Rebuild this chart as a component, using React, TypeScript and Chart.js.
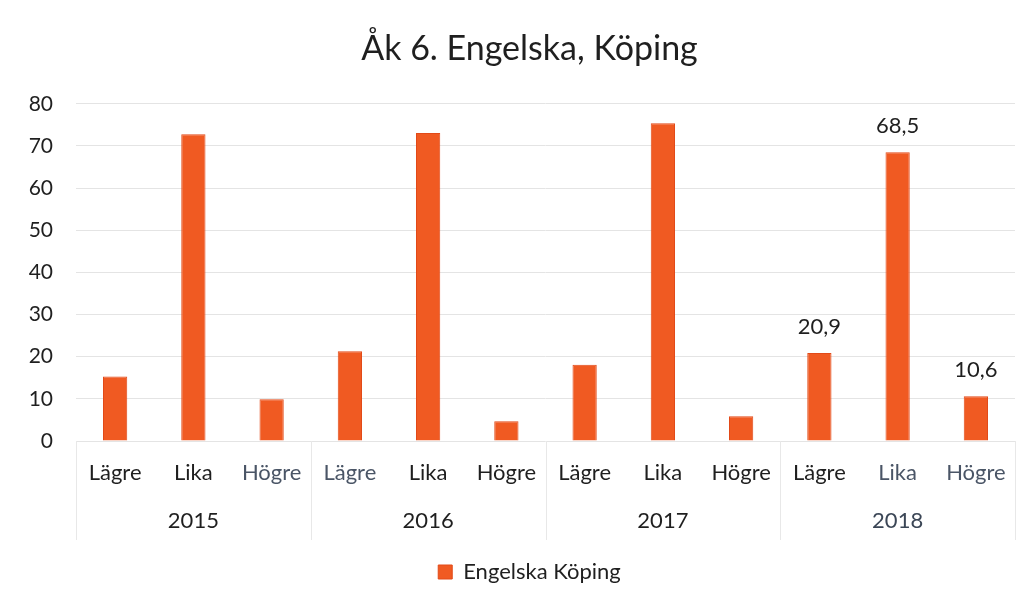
import React, { useEffect, useRef } from 'react';
import { Chart, registerables } from 'chart.js';

Chart.register(...registerables);

const chartTitle = 'Åk 6. Engelska, Köping';
const seriesName = 'Engelska Köping';
const categories = ['Lägre', 'Lika', 'Högre', 'Lägre', 'Lika', 'Högre', 'Lägre', 'Lika', 'Högre', 'Lägre', 'Lika', 'Högre'];
const years = ['2015', '2016', '2017', '2018'];
const values = [15.3, 72.8, 9.9, 21.3, 73.1, 4.7, 18.1, 75.4, 5.9, 20.9, 68.5, 10.6];
const labelled = [false, false, false, false, false, false, false, false, false, true, true, true];
const categoryColors = ['#1f1f1f', '#1f1f1f', '#4a5566', '#4a5566', '#1f1f1f', '#1f1f1f', '#1f1f1f', '#1f1f1f', '#1f1f1f', '#1f1f1f', '#4a5566', '#4a5566'];
const yearColors = ['#1f1f1f', '#1f1f1f', '#1f1f1f', '#3b4656'];
const yMin = 0;
const yMax = 80;
const yStep = 10;

const FONT = 'Lato, "Open Sans", sans-serif';

const groupSeparators = {
  id: 'groupSeparators',
  afterDraw(chart: any) {
    const { ctx, chartArea } = chart;
    const x = chart.scales.x;
    const x2 = chart.scales.x2;
    const per = categories.length / years.length;
    const xs: number[] = [chartArea.left];
    for (let g = 1; g < years.length; g++) {
      const a = x.getPixelForValue(g * per - 1);
      const b = x.getPixelForValue(g * per);
      xs.push((a + b) / 2);
    }
    xs.push(chartArea.right);
    ctx.save();
    ctx.strokeStyle = '#e8e8e8';
    ctx.lineWidth = 1;
    xs.forEach((px) => {
      ctx.beginPath();
      ctx.moveTo(Math.round(px) + 0.5, chartArea.bottom);
      ctx.lineTo(Math.round(px) + 0.5, x2.bottom + 7);
      ctx.stroke();
    });
    ctx.restore();
  },
};

const valueLabels = {
  id: 'valueLabels',
  afterDatasetsDraw(chart: any) {
    const { ctx } = chart;
    const meta = chart.getDatasetMeta(0);
    ctx.save();
    ctx.font = `22px ${FONT}`;
    ctx.fillStyle = '#1f1f1f';
    ctx.textAlign = 'center';
    ctx.textBaseline = 'middle';
    meta.data.forEach((bar: any, i: number) => {
      if (!labelled[i]) return;
      const txt = String(values[i]).replace('.', ',');
      ctx.fillText(txt, bar.x, bar.y - 26);
    });
    ctx.restore();
  },
};

export default function App() {
  const ref = useRef<HTMLCanvasElement | null>(null);

  useEffect(() => {
    if (!ref.current) return;
    const chart = new Chart(ref.current, {
      type: 'bar',
      data: {
        labels: categories,
        datasets: [
          {
            label: seriesName,
            data: values,
            backgroundColor: '#F05A22',
            borderColor: '#E24A18',
            borderWidth: 1,
            barPercentage: 0.31,
            categoryPercentage: 1.0,
          },
        ],
      },
      options: {
        responsive: false,
        animation: false,
        layout: { padding: { left: 26, right: 0, top: 0, bottom: 12 } },
        plugins: {
          title: {
            display: true,
            text: chartTitle,
            color: '#1f1f1f',
            font: { family: FONT, size: 34, weight: 'normal' },
            padding: { top: 29, bottom: 34 },
          },
          legend: {
            display: true,
            position: 'bottom',
            labels: {
              color: '#1f1f1f',
              font: { family: FONT, size: 22 },
              boxWidth: 14,
              boxHeight: 14,
              padding: 28,
            },
          },
          tooltip: { enabled: false },
        },
        scales: {
          x: {
            type: 'category',
            position: 'bottom',
            grid: { display: false, drawTicks: false },
            border: { display: false },
            ticks: {
              font: { family: FONT, size: 22 },
              color: (c: any) => categoryColors[c.index] || '#1f1f1f',
              padding: 19,
              maxRotation: 0,
              autoSkip: false,
            },
            afterFit: (scale: any) => {
              scale.height = 44;
            },
          },
          x2: {
            type: 'category',
            labels: years,
            position: 'bottom',
            offset: true,
            grid: { display: false, drawTicks: false },
            border: { display: false },
            ticks: {
              font: { family: FONT, size: 22 },
              color: (c: any) => yearColors[c.index] || '#1f1f1f',
              padding: 23,
              maxRotation: 0,
            },
            afterFit: (scale: any) => {
              scale.height = 48;
            },
          },
          y: {
            min: yMin,
            max: yMax,
            grid: { color: '#e4e4e4', drawTicks: false },
            border: { display: false },
            ticks: {
              stepSize: yStep,
              font: { family: FONT, size: 21 },
              color: '#1f1f1f',
              padding: 23,
            },
            afterFit: (scale: any) => {
              scale.width = 50;
            },
          },
          yRight: {
            type: 'linear',
            position: 'right',
            display: true,
            grid: { display: false, drawTicks: false },
            border: { display: false },
            ticks: { display: false },
            afterFit: (scale: any) => {
              scale.width = 18;
            },
          },
        },
      },
      plugins: [groupSeparators, valueLabels],
    });
    return () => chart.destroy();
  }, []);

  return (
    <div style={{ position: 'fixed', left: 0, top: 0, width: 1033, height: 605, background: '#fff' }}>
      <canvas ref={ref} width={1033} height={605} />
    </div>
  );
}
